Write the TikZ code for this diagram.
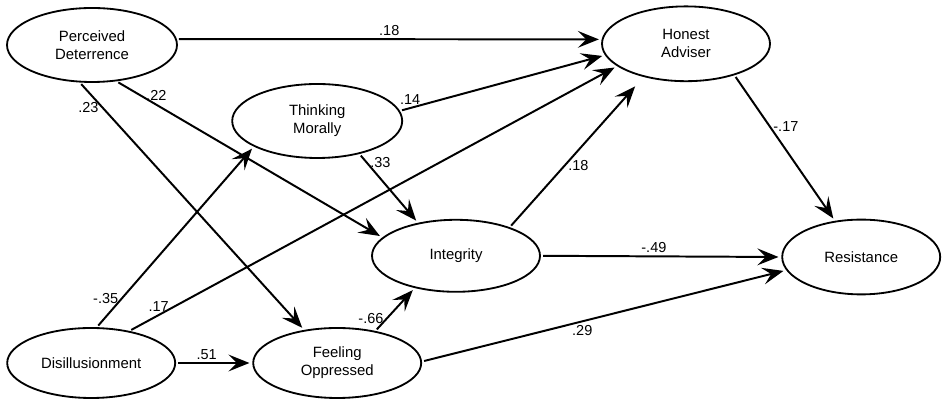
\documentclass[tikz,border=0pt]{standalone}
\usepackage{fontspec}
\setmainfont{Liberation Sans}
\usetikzlibrary{arrows.meta,shapes.geometric}

\begin{document}
\begin{tikzpicture}[
  construct/.style={ellipse, draw=black, line width=1.3pt, inner sep=0pt,
    minimum width=4.2cm, minimum height=1.8cm, align=center,
    font=\fontsize{10.6}{12.8}\selectfont},
  link/.style={draw=black, line width=1.4pt, shorten <=1.5pt, shorten >=2pt,
    -{Stealth[length=15pt, width=12pt, inset=6pt]}},
  weight/.style={font=\fontsize{10.3}{12}\selectfont, inner sep=2pt},
]
\useasboundingbox (0,0) rectangle (23.55,10.025);

\node[construct, minimum width=4.25cm, minimum height=1.85cm] (det) at (2.30, 8.90) {Perceived\\Deterrence};
\node[construct, minimum width=4.25cm, minimum height=1.85cm] (moral) at (7.93, 7.00) {Thinking\\Morally};
\node[construct] (integ) at (11.40, 3.63) {Integrity};
\node[construct, minimum height=1.75cm] (disil) at (2.28, 0.95) {Disillusionment};
\node[construct, minimum height=1.75cm] (oppr) at (8.43, 0.95) {Feeling\\Oppressed};
\node[construct, minimum height=1.87cm] (advis) at (17.15, 8.93) {Honest\\Adviser};
\node[construct, minimum width=3.95cm, minimum height=1.87cm] (resist) at (21.53, 3.60) {Resistance};

\draw[link] (det.4)    -- node[weight, above, pos=0.5]  {.18} (advis.177);
\draw[link] (det.-56)  -- node[weight, above, pos=0.15] {.22} (integ.166);
\draw[link] (det.-108) -- node[weight, left, pos=0.1]   {.23} (oppr.135);
\draw[link] (moral.7)  -- node[weight, above, pos=0.05] {.14} (advis.188);
\draw[link] (moral.-38) -- node[weight, right, pos=0.12] {.33} (integ.139);
\draw[link] (disil.81) -- node[weight, left, pos=0.16]  {-.35} (moral.202);
\draw[link] (disil.40) -- node[weight, above, pos=0.06] {.17} (advis.198);
\draw[link] (disil.0)  -- node[weight, above, pos=0.4]  {.51} (oppr.180);
\draw[link] (oppr.40)  -- node[weight, left, pos=0.3]   {-.66} (integ.218);
\draw[link, shorten >=9pt] (integ.28) -- node[weight, right, pos=0.41] {.18} (advis.218);
\draw[link] (integ.0)  -- node[weight, above, pos=0.47] {-.49} (resist.180);
\draw[link] (oppr.1)   -- node[weight, below, pos=0.44] {.29} (resist.190);
\draw[link] (advis.-33) -- node[weight, right, pos=0.35] {-.17} (resist.126);
\end{tikzpicture}
\end{document}
